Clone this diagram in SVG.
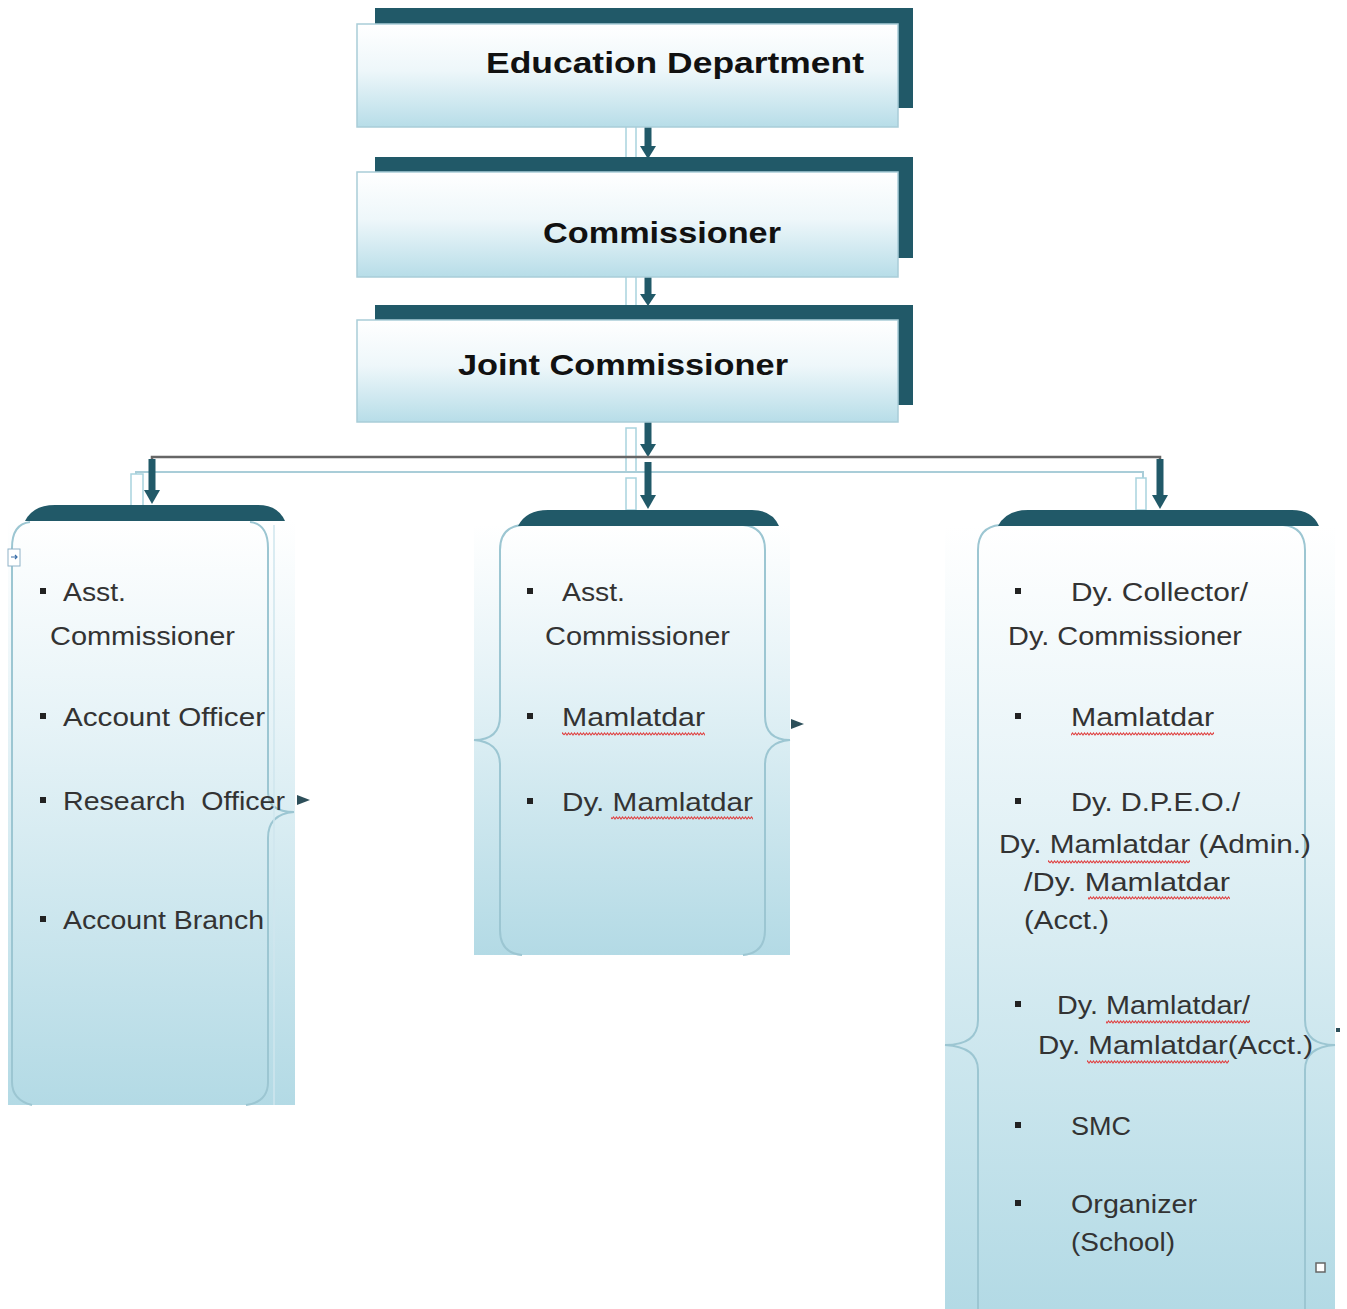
<svg xmlns="http://www.w3.org/2000/svg" width="1347" height="1309" viewBox="0 0 1347 1309">
<defs>
<linearGradient id="gTop" x1="0" y1="0" x2="0" y2="1">
<stop offset="0" stop-color="#ffffff"/>
<stop offset="0.45" stop-color="#eef7fa"/>
<stop offset="1" stop-color="#b7dde8"/>
</linearGradient>
<linearGradient id="gBody" x1="0" y1="0" x2="0" y2="1">
<stop offset="0" stop-color="#ffffff"/>
<stop offset="0.35" stop-color="#e6f3f7"/>
<stop offset="1" stop-color="#b3dae5"/>
</linearGradient>
<pattern id="wave" width="6" height="4" patternUnits="userSpaceOnUse">
<path d="M0,3 L1.5,1 L3,3 L4.5,1 L6,3" fill="none" stroke="#e04545" stroke-width="1.1"/>
</pattern>
</defs>
<style>
.dark{fill:#215968}
.front{fill:url(#gTop);stroke:#a9cdd8;stroke-width:1.5}
.body{fill:url(#gBody)}
.brace{fill:none;stroke:#9cc6d2;stroke-width:2}
.title{font-family:"Liberation Sans",Arial,sans-serif;font-weight:bold;font-size:30px;fill:#111}
.t{font-family:"Liberation Sans",Arial,sans-serif;font-size:25px;fill:#333}
.bul{fill:#222}
.shaft{stroke:#215968;stroke-width:7;fill:none}
.head{fill:#215968}
.hollow{fill:#ffffff;stroke:#a9d3de;stroke-width:1.5}
.hline{stroke:#666;stroke-width:2.5;fill:none}
.lline{stroke:#a9cdd8;stroke-width:2;fill:none}
.uw{fill:url(#wave)}
</style>

<g id="connectors">
<rect class="hollow" x="626" y="124" width="10" height="48"/>
<line class="shaft" x1="648" y1="114" x2="648" y2="148"/>
<path class="head" d="M640,146 L656,146 L648,159 Z"/>
<rect class="hollow" x="626" y="274" width="10" height="46"/>
<line class="shaft" x1="648" y1="261" x2="648" y2="296"/>
<path class="head" d="M640,294 L656,294 L648,306 Z"/>
<rect class="hollow" x="626" y="428" width="10" height="44"/>
<line class="shaft" x1="648" y1="410" x2="648" y2="446"/>
<path class="head" d="M640,444 L656,444 L648,457 Z"/>
<polyline class="lline" points="136,505 136,472 1143,472 1143,505"/>
<rect class="hollow" x="131" y="474" width="12" height="32"/>
<rect class="hollow" x="626" y="478" width="10" height="32"/>
<rect class="hollow" x="1136" y="478" width="10" height="32"/>
<polyline class="hline" points="152,465 152,457 1160,457 1160,465"/>
<line class="shaft" x1="152" y1="459" x2="152" y2="492"/>
<path class="head" d="M144,490 L160,490 L152,504 Z"/>
<line class="shaft" x1="648" y1="462" x2="648" y2="497"/>
<path class="head" d="M640,495 L656,495 L648,509 Z"/>
<line class="shaft" x1="1160" y1="459" x2="1160" y2="497"/>
<path class="head" d="M1152,495 L1168,495 L1160,509 Z"/>
</g>

<g id="node-education">
<rect class="dark" x="375" y="8" width="538" height="100"/>
<rect class="front" x="357" y="24" width="541" height="103"/>
<text class="title" x="486" y="73" textLength="378" lengthAdjust="spacingAndGlyphs">Education Department</text>
</g>

<g id="node-commissioner">
<rect class="dark" x="375" y="157" width="538" height="101"/>
<rect class="front" x="357" y="172" width="541" height="105"/>
<text class="title" x="543" y="243" textLength="238" lengthAdjust="spacingAndGlyphs">Commissioner</text>
</g>

<g id="node-joint">
<rect class="dark" x="375" y="305" width="538" height="100"/>
<rect class="front" x="357" y="320" width="541" height="102"/>
<text class="title" x="458" y="375" textLength="330" lengthAdjust="spacingAndGlyphs">Joint Commissioner</text>
</g>

<g id="node-left">
<rect class="body" x="8" y="520" width="287" height="585"/>
<path class="brace" d="M30,522 Q12,524 12,548 L12,1082 Q12,1100 32,1105"/>
<path class="brace" d="M250,522 Q268,524 268,548 L268,792 Q268,812 294,812 Q268,814 268,838 L268,1082 Q268,1102 246,1105"/>
<line x1="274" y1="525" x2="274" y2="1105" stroke="#cfe6ee" stroke-width="1.5"/>
<path class="dark" d="M25,521 Q33,505 55,505 L258,505 Q278,505 285,521 Z"/>
<rect x="8" y="549" width="12" height="17" fill="#fff" stroke="#8fb2c8" stroke-width="1"/>
<path d="M11,557 L17,557 M15,555 L17,557 L15,559" stroke="#3a6ea8" stroke-width="1.2" fill="none"/>
<path d="M297,795 L310,800 L297,805 Z" fill="#2d4f5a"/>
<rect class="bul" x="40" y="588" width="6" height="6"/>
<text class="t" x="63" y="601" textLength="63" lengthAdjust="spacingAndGlyphs">Asst.</text>
<text class="t" x="50" y="645" textLength="185" lengthAdjust="spacingAndGlyphs">Commissioner</text>
<rect class="bul" x="40" y="713" width="6" height="6"/>
<text class="t" x="63" y="726" textLength="202" lengthAdjust="spacingAndGlyphs">Account Officer</text>
<rect class="bul" x="40" y="797" width="6" height="6"/>
<text class="t" x="63" y="810" textLength="222" lengthAdjust="spacingAndGlyphs" xml:space="preserve">Research  Officer</text>
<rect class="bul" x="40" y="916" width="6" height="6"/>
<text class="t" x="63" y="929" textLength="201" lengthAdjust="spacingAndGlyphs">Account Branch</text>
</g>

<g id="node-middle">
<rect class="body" x="474" y="525" width="316" height="430"/>
<path class="brace" d="M522,525 Q500,527 500,550 L500,716 Q500,740 474,740 Q500,742 500,765 L500,930 Q500,953 522,955"/>
<path class="brace" d="M743,525 Q765,527 765,550 L765,716 Q765,740 790,740 Q765,742 765,765 L765,930 Q765,953 743,955"/>
<path class="dark" d="M518,526 Q526,510 548,510 L752,510 Q772,510 779,526 Z"/>
<path d="M791,719 L804,724 L791,729 Z" fill="#2d4f5a"/>
<rect class="bul" x="527" y="588" width="6" height="6"/>
<text class="t" x="562" y="601" textLength="63" lengthAdjust="spacingAndGlyphs">Asst.</text>
<text class="t" x="545" y="645" textLength="185" lengthAdjust="spacingAndGlyphs">Commissioner</text>
<rect class="bul" x="527" y="713" width="6" height="6"/>
<text class="t" x="562" y="726" textLength="143" lengthAdjust="spacingAndGlyphs">Mamlatdar</text>
<rect class="uw" x="562" y="732" width="143" height="4"/>
<rect class="bul" x="527" y="798" width="6" height="6"/>
<text class="t" x="562" y="811" textLength="191" lengthAdjust="spacingAndGlyphs">Dy. Mamlatdar</text>
<rect class="uw" x="611" y="816" width="142" height="4"/>
</g>

<g id="node-right">
<rect class="body" x="945" y="525" width="390" height="784"/>
<path class="brace" d="M1000,525 Q978,527 978,550 L978,1020 Q978,1045 945,1045 Q978,1047 978,1070 L978,1309"/>
<path class="brace" d="M1283,525 Q1305,527 1305,550 L1305,1020 Q1305,1045 1335,1045 Q1305,1047 1305,1070 L1305,1309"/>
<path class="dark" d="M998,526 Q1006,510 1028,510 L1292,510 Q1312,510 1319,526 Z"/>
<rect x="1336" y="1028" width="4" height="4" fill="#2d4f5a"/>
<rect x="1316" y="1263" width="9" height="9" fill="#fff" stroke="#666" stroke-width="1.5"/>
<rect class="bul" x="1015" y="588" width="6" height="6"/>
<text class="t" x="1071" y="601" textLength="177" lengthAdjust="spacingAndGlyphs">Dy. Collector/</text>
<text class="t" x="1008" y="645" textLength="234" lengthAdjust="spacingAndGlyphs">Dy. Commissioner</text>
<rect class="bul" x="1015" y="713" width="6" height="6"/>
<text class="t" x="1071" y="726" textLength="143" lengthAdjust="spacingAndGlyphs">Mamlatdar</text>
<rect class="uw" x="1071" y="732" width="143" height="4"/>
<rect class="bul" x="1015" y="798" width="6" height="6"/>
<text class="t" x="1071" y="811" textLength="169" lengthAdjust="spacingAndGlyphs">Dy. D.P.E.O./</text>
<text class="t" x="999" y="853" textLength="312" lengthAdjust="spacingAndGlyphs">Dy. Mamlatdar (Admin.)</text>
<rect class="uw" x="1048" y="860" width="142" height="4"/>
<text class="t" x="1024" y="891" textLength="206" lengthAdjust="spacingAndGlyphs">/Dy. Mamlatdar</text>
<rect class="uw" x="1088" y="896" width="142" height="4"/>
<text class="t" x="1024" y="929" textLength="85" lengthAdjust="spacingAndGlyphs">(Acct.)</text>
<rect class="bul" x="1015" y="1001" width="6" height="6"/>
<text class="t" x="1057" y="1014" textLength="193" lengthAdjust="spacingAndGlyphs">Dy. Mamlatdar/</text>
<rect class="uw" x="1106" y="1020" width="144" height="4"/>
<text class="t" x="1038" y="1054" textLength="275" lengthAdjust="spacingAndGlyphs">Dy. Mamlatdar(Acct.)</text>
<rect class="uw" x="1087" y="1060" width="142" height="4"/>
<rect class="bul" x="1015" y="1122" width="6" height="6"/>
<text class="t" x="1071" y="1135" textLength="60" lengthAdjust="spacingAndGlyphs">SMC</text>
<rect class="bul" x="1015" y="1200" width="6" height="6"/>
<text class="t" x="1071" y="1213" textLength="126" lengthAdjust="spacingAndGlyphs">Organizer</text>
<text class="t" x="1071" y="1251" textLength="104" lengthAdjust="spacingAndGlyphs">(School)</text>
</g>
</svg>
